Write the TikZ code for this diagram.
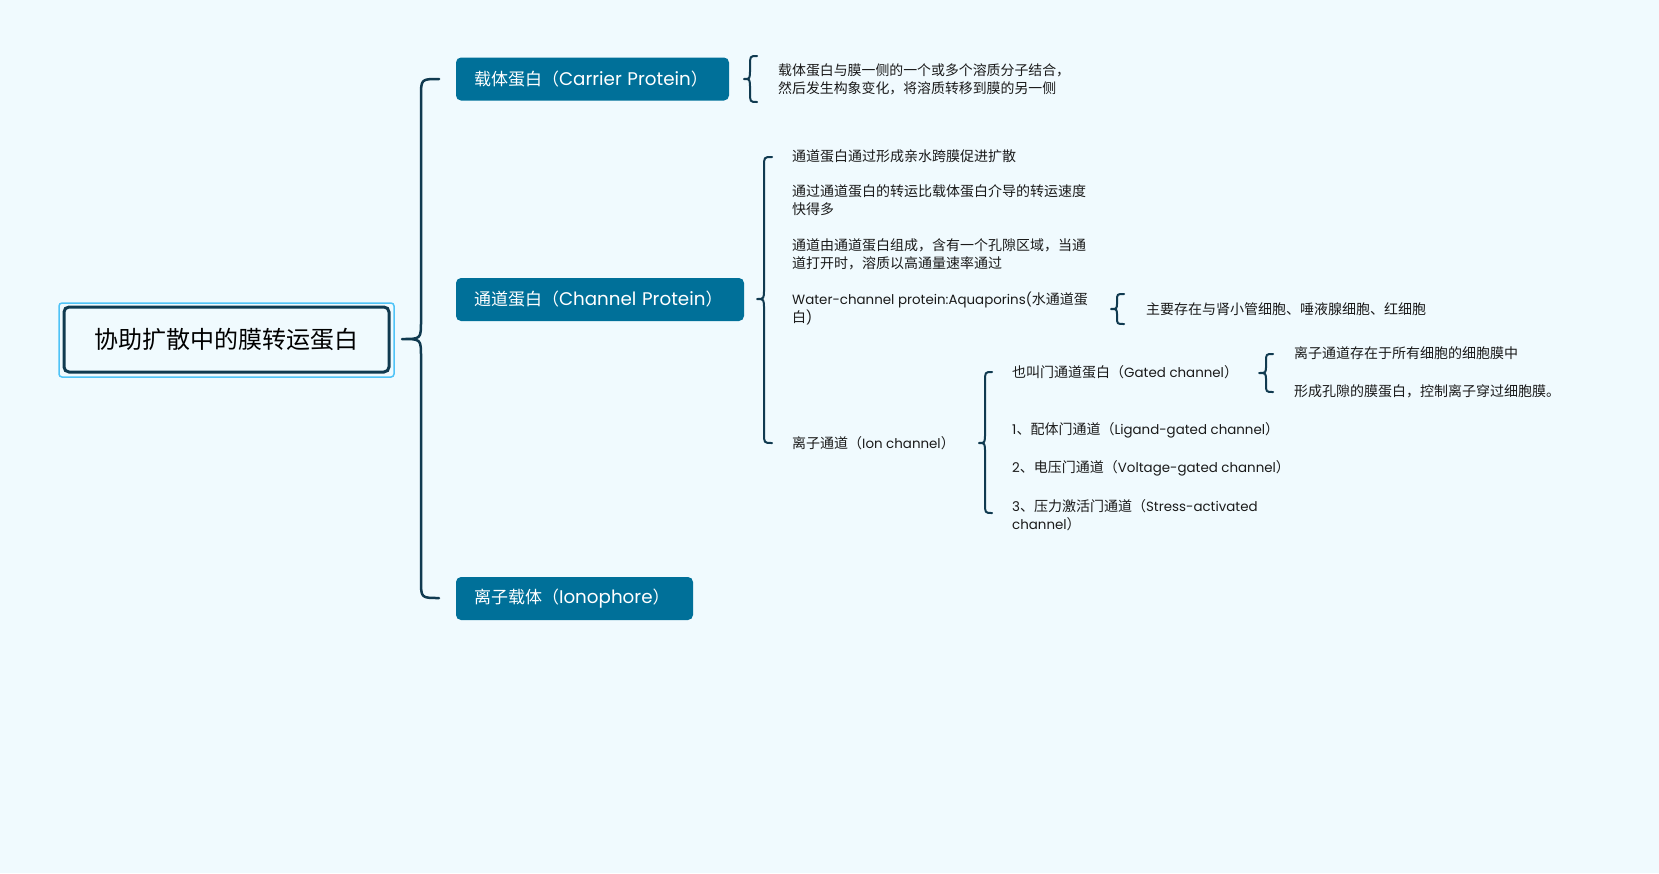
\documentclass[tikz,border=0pt]{standalone}
\usepackage{fontspec}
\setmainfont{Noto Sans CJK SC}
\newfontfamily\lat{Poppins}
\newcommand\ls[1]{{\lat\fontsize{13.4}{18}\selectfont #1}}
\newcommand\lb[1]{{\lat\fontsize{18.3}{20}\selectfont #1}}
\definecolor{bg}{RGB}{240,250,254}
\definecolor{boxfill}{RGB}{0,112,153}
\definecolor{brc}{RGB}{16,58,80}
\definecolor{hl}{RGB}{79,195,247}
\definecolor{txt}{RGB}{26,26,26}
\tikzset{
  l1/.style={fill=boxfill, rounded corners=5pt, text=white, font=\fontsize{17}{20}\selectfont, inner ysep=0pt, inner xsep=18pt, align=left, minimum height=43pt},
  leaf/.style={anchor=west, align=left, text=txt, font=\fontsize{14}{18}\selectfont, inner sep=0pt},
  brace/.style={draw=brc, line cap=round, line join=round},
}
\newcommand\drawbrace[8]{\draw[brace, line width=#8] ({#1+#3},#4) .. controls (#1,#4) .. (#1,{#4+#7}) -- (#1,{#5-#7}) .. controls (#1,#5) .. ({#1-#2},#5) .. controls (#1,#5) .. (#1,{#5+#7}) -- (#1,{#6-#7}) .. controls (#1,#6) .. ({#1+#3},#6);}
\begin{document}
\begin{tikzpicture}[x=1pt,y=-1pt]
\useasboundingbox[fill=bg] (0,0) rectangle (1659,873);
% root
\draw[hl, line width=1.5pt, rounded corners=3pt] (59,303) rectangle (394,377);
\node[draw=brc, line width=3pt, rounded corners=5pt, minimum width=325pt, minimum height=65pt, inner sep=0pt, font=\fontsize{24}{28}\selectfont, text=black] (root) at (226.5,339.5) {协助扩散中的膜转运蛋白};
% level 1
\node[l1, text width=237pt] (carrier) at (592.5,79) {载体蛋白（\lb{Carrier Protein}）};
\node[l1, text width=252pt] (channel) at (600,299.5) {通道蛋白（\lb{Channel Protein}）};
\node[l1, text width=201pt] (iono) at (574.5,598.5) {离子载体（\lb{Ionophore}）};
% main brace
\drawbrace{421}{19}{18}{79}{339}{598}{18}{2.5pt}
% carrier child
\drawbrace{750}{6}{7}{56}{79}{102}{10}{2pt}
\node[leaf, font=\fontsize{13.9}{18}\selectfont] (c1) at (778,79) {载体蛋白与膜一侧的一个或多个溶质分子结合，\\然后发生构象变化，将溶质转移到膜的另一侧};
% channel children
\drawbrace{764}{7}{8}{157}{299}{443}{10}{2pt}
\node[leaf] (ch1) at (792,156) {通道蛋白通过形成亲水跨膜促进扩散};
\node[leaf] (ch2) at (792,200) {通过通道蛋白的转运比载体蛋白介导的转运速度\\快得多};
\node[leaf] (ch3) at (792,254) {通道由通道蛋白组成，含有一个孔隙区域，当通\\道打开时，溶质以高通量速率通过};
\node[leaf] (ch4) at (792,308) {\ls{Water-channel protein:Aquaporins(}水通道蛋\\白\ls{)}};
\node[leaf] (ch5) at (792,443) {离子通道（\ls{Ion channel}）};
% water child
\drawbrace{1117}{6}{7}{294}{309}{324}{7}{2pt}
\node[leaf] (w1) at (1146,309) {主要存在与肾小管细胞、唾液腺细胞、红细胞};
% ion channel children
\drawbrace{985}{6}{7}{372}{443}{513}{10}{2pt}
\node[leaf] (i1) at (1012,372) {也叫门通道蛋白（\ls{Gated channel}）};
\node[leaf] (i2) at (1012,430) {\ls{1}、配体门通道（\ls{Ligand-gated channel}）};
\node[leaf] (i3) at (1012,468) {\ls{2}、电压门通道（\ls{Voltage-gated channel}）};
\node[leaf] (i4) at (1012,515) {\ls{3}、压力激活门通道（\ls{Stress-activated}\\\ls{channel}）};
% gated children
\drawbrace{1266}{7}{7}{354}{373}{392}{8}{2pt}
\node[leaf] (g1) at (1294,353) {离子通道存在于所有细胞的细胞膜中};
\node[leaf] (g2) at (1294,391) {形成孔隙的膜蛋白，控制离子穿过细胞膜。};
\end{tikzpicture}
\end{document}
